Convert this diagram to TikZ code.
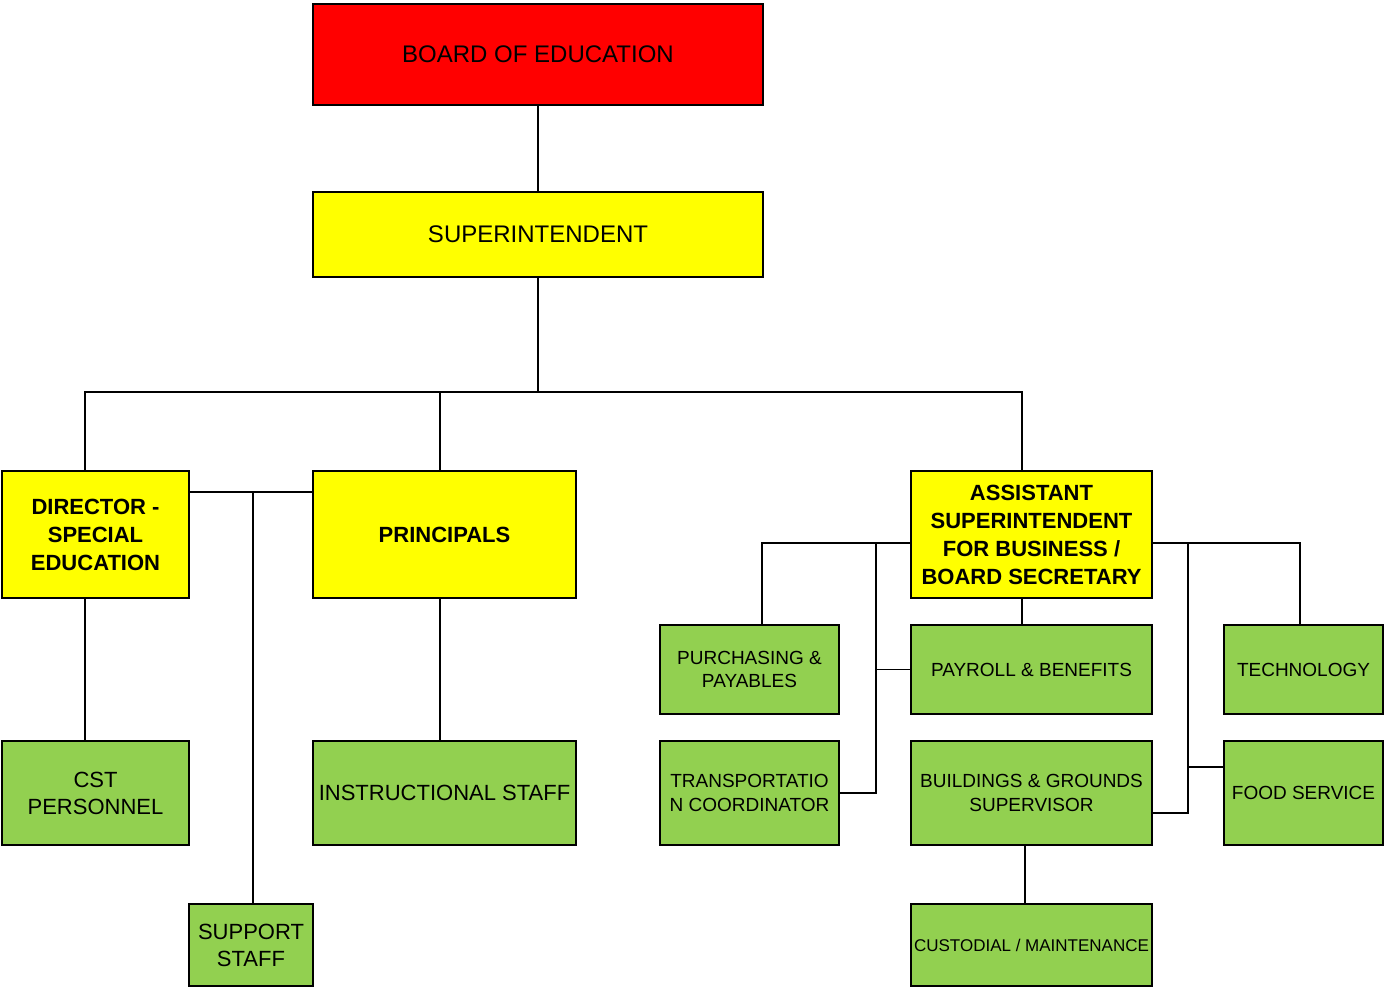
\documentclass[tikz,border=0pt]{standalone}
\usepackage{fontspec}
\setmainfont{Liberation Sans}
\definecolor{boardred}{HTML}{FF0000}
\definecolor{yel}{HTML}{FFFF00}
\definecolor{grn}{HTML}{92D050}
\begin{document}
\begin{tikzpicture}[x=1pt,y=-1pt,
  box/.style={draw=black,line width=2pt,inner sep=0pt,outer sep=0pt,align=center,text=black},
  redbox/.style={box,fill=boardred,font=\fontsize{24}{28}\selectfont},
  topbox/.style={box,fill=yel,font=\fontsize{24}{28}\selectfont},
  yelbox/.style={box,fill=yel,font=\fontsize{22}{28}\selectfont\bfseries},
  grnbig/.style={box,fill=grn,font=\fontsize{22}{27}\selectfont},
  grnsmall/.style={box,fill=grn,font=\fontsize{19}{23.5}\selectfont},
  conn/.style={draw=black,line width=1.6pt}]
\useasboundingbox (0,0) rectangle (1384,988);

\node[redbox,minimum width=450pt,minimum height=101pt] (board) at (538,54.5) {BOARD OF EDUCATION};
\node[topbox,minimum width=450pt,minimum height=85pt] (sup) at (538,234.5) {SUPERINTENDENT};

\node[yelbox,minimum width=187pt,minimum height=127pt] (dir) at (95.5,534.5) {DIRECTOR -\\SPECIAL\\EDUCATION};
\node[yelbox,minimum width=263pt,minimum height=127pt] (prin) at (444.5,534.5) {PRINCIPALS};
\node[yelbox,minimum width=241pt,minimum height=127pt] (asst) at (1031.5,534.5) {ASSISTANT\\SUPERINTENDENT\\FOR BUSINESS /\\BOARD SECRETARY};

\node[grnbig,minimum width=187pt,minimum height=104pt] (cst) at (95.5,793) {CST\\PERSONNEL};
\node[grnbig,minimum width=263pt,minimum height=104pt] (instr) at (444.5,793) {INSTRUCTIONAL STAFF};
\node[grnbig,minimum width=124pt,minimum height=82pt] (supp) at (251,945) {SUPPORT\\STAFF};

\node[grnsmall,minimum width=179pt,minimum height=89pt] (purch) at (749.5,669.5) {PURCHASING \&\\PAYABLES};
\node[grnsmall,minimum width=241pt,minimum height=89pt] (pay) at (1031.5,669.5) {PAYROLL \& BENEFITS};
\node[grnsmall,minimum width=159pt,minimum height=89pt] (tech) at (1303.5,669.5) {TECHNOLOGY};
\node[grnsmall,minimum width=179pt,minimum height=104pt] (trans) at (749.5,793) {TRANSPORTATIO\\N COORDINATOR};
\node[grnsmall,minimum width=241pt,minimum height=104pt] (build) at (1031.5,793) {BUILDINGS \& GROUNDS\\SUPERVISOR};
\node[grnsmall,minimum width=159pt,minimum height=104pt] (food) at (1303.5,793) {FOOD SERVICE};
\node[box,fill=grn,font=\fontsize{17}{21}\selectfont,minimum width=241pt,minimum height=82pt] (cust) at (1031.5,945) {CUSTODIAL / MAINTENANCE};

% coordinates for connector routing
\coordinate (busL) at (85,392);
\coordinate (busR) at (1022,392);
\coordinate (pcol) at (440,392);
\coordinate (sj) at (253,492);
\coordinate (ra) at (762,543);
\coordinate (lv) at (876,544);
\coordinate (rt) at (1300,543);
\coordinate (rv) at (1188,543);
\coordinate (rb) at (1188,813);
\coordinate (rf) at (1188,767);
\coordinate (bc) at (1025,0);

% top
\draw[conn] (board.south) -- (sup.north);
\draw[conn] (sup.south) -- (sup.south |- busL);
\draw[conn] (dir.north -| busL) -- (busL) -- (busR) -- (asst.north -| busR);
\draw[conn] (pcol) -- (prin.north -| pcol);

% left side
\draw[conn] (dir.east |- sj) -- (prin.west |- sj);
\draw[conn] (sj) -- (supp.north -| sj);
\draw[conn] (dir.south -| busL) -- (cst.north -| busL);
\draw[conn] (prin.south -| pcol) -- (instr.north -| pcol);

% business side, left
\draw[conn] (asst.west |- ra) -- (ra) -- (purch.north -| ra);
\draw[conn] (lv) -- (lv |- trans.east) -- (trans.east);
\draw[conn] (lv |- pay.west) -- (pay.west);
\draw[conn] (asst.south -| busR) -- (pay.north -| busR);

% business side, right
\draw[conn] (asst.east |- rt) -- (rt) -- (tech.north -| rt);
\draw[conn] (rv) -- (rb) -- (build.east |- rb);
\draw[conn] (rf) -- (food.west |- rf);
\draw[conn] (build.south -| bc) -- (cust.north -| bc);
\end{tikzpicture}
\end{document}
